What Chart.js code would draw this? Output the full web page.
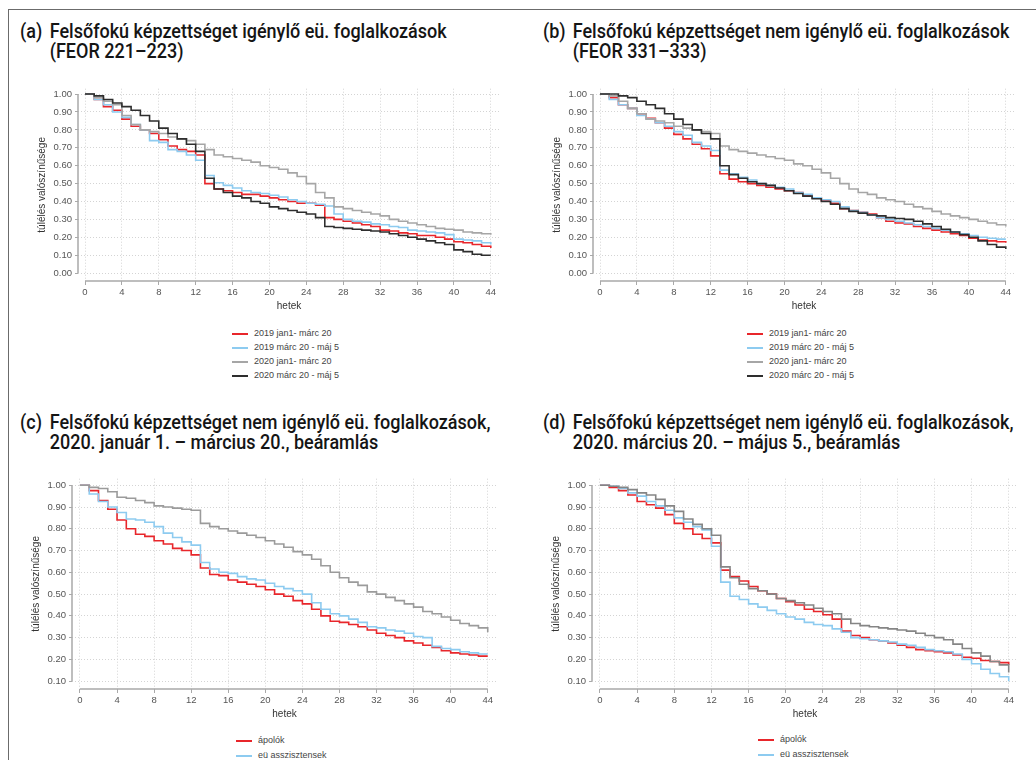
<!DOCTYPE html>
<html>
<head>
<meta charset="utf-8">
<script src="https://cdn.jsdelivr.net/npm/chart.js@4.4.0/dist/chart.umd.min.js"></script>
<style>
    body { margin: 0; width: 1036px; height: 760px; overflow: hidden; background: #fff; position: relative;
           font-family: "Liberation Sans", Arial, sans-serif; }
    #frame { position: absolute; left: 8px; top: 9px; width: 1100px; height: 800px;
             border-top: 1.5px solid #6b6b6b; border-left: 1.5px solid #6b6b6b; }
    .title { position: absolute; font-family: Roboto, "DejaVu Sans Condensed", sans-serif; font-weight: 500;
             font-size: 20px; line-height: 20px; color: #151515; white-space: nowrap;
             transform: scaleX(0.9); transform-origin: 0 0; }
    .title .lab { position: absolute; left: 0; top: 0; }
    .title .txt { margin-left: 33px; }
    canvas { position: absolute; }
    .legend { position: absolute; font-size: 9px; color: #444; }
    .legend div { white-space: nowrap; }
    .legend .ln { display: inline-block; width: 16px; height: 2px; vertical-align: middle; margin-right: 6px; }
</style>
</head>
<body>
<div id="frame"></div>

<div class="title" style="left:20px;top:21px"><span class="lab">(a)</span><div class="txt">Felsőfokú képzettséget igénylő eü. foglalkozások<br>(FEOR 221–223)</div></div>
<div class="title" style="left:543px;top:21px"><span class="lab">(b)</span><div class="txt">Felsőfokú képzettséget nem igénylő eü. foglalkozások<br>(FEOR 331–333)</div></div>
<div class="title" style="left:20px;top:412px"><span class="lab">(c)</span><div class="txt">Felsőfokú képzettséget nem igénylő eü. foglalkozások,<br>2020. január 1. – március 20., beáramlás</div></div>
<div class="title" style="left:543px;top:412px"><span class="lab">(d)</span><div class="txt">Felsőfokú képzettséget nem igénylő eü. foglalkozások,<br>2020. március 20. – május 5., beáramlás</div></div>

<canvas id="chartA" width="475" height="234" style="left:30px;top:80px"></canvas>
<canvas id="chartB" width="475" height="234" style="left:545px;top:80px"></canvas>
<canvas id="chartC" width="478" height="252" style="left:24px;top:470px"></canvas>
<canvas id="chartD" width="479" height="252" style="left:544px;top:470px"></canvas>

<div class="legend" id="legendA" style="left:232px;top:326px"></div>
<div class="legend" id="legendB" style="left:747px;top:326px"></div>
<div class="legend" id="legendC" style="left:236px;top:733px"></div>
<div class="legend" id="legendD" style="left:758px;top:732px"></div>

<script>
"use strict";

// hetek (weeks)
const weeks = [0, 1, 2, 3, 4, 5, 6, 7, 8, 9, 10, 11, 12, 13, 14, 15, 16, 17, 18, 19, 20, 21,
    22, 23, 24, 25, 26, 27, 28, 29, 30, 31, 32, 33, 34, 35, 36, 37, 38, 39, 40, 41, 42, 43, 44];

const periodLabels = ['2019 jan1- márc 20', '2019 márc 20 - máj 5', '2020 jan1- márc 20', '2020 márc 20 - máj 5'];
const jobLabels = ['ápolók', 'eü asszisztensek', 'egyéb eü. foglalkozások'];

// (a) FEOR 221-223
const aRed = [1.00, 0.97, 0.93, 0.91, 0.86, 0.82, 0.80, 0.78, 0.745, 0.71, 0.69, 0.68, 0.66, 0.50, 0.47, 0.46, 0.45, 0.44, 0.44, 0.43, 0.42, 0.41, 0.40,
    0.39, 0.39, 0.38, 0.31, 0.30, 0.29, 0.28, 0.27, 0.26, 0.24, 0.235, 0.225, 0.22, 0.21, 0.21, 0.20, 0.19, 0.175, 0.17, 0.16, 0.15, 0.14];
const aBlue = [1.00, 0.97, 0.94, 0.90, 0.87, 0.83, 0.80, 0.74, 0.73, 0.69, 0.68, 0.66, 0.63, 0.545, 0.505, 0.49, 0.475, 0.46, 0.45, 0.445, 0.435, 0.425, 0.41,
    0.40, 0.39, 0.385, 0.375, 0.33, 0.30, 0.29, 0.285, 0.275, 0.27, 0.26, 0.255, 0.24, 0.235, 0.23, 0.225, 0.215, 0.19, 0.185, 0.18, 0.17, 0.16];
const aGray = [1.00, 0.98, 0.96, 0.94, 0.88, 0.83, 0.80, 0.79, 0.78, 0.76, 0.75, 0.74, 0.72, 0.69, 0.66, 0.65, 0.64, 0.63, 0.62, 0.60, 0.59, 0.58, 0.56,
    0.54, 0.50, 0.45, 0.42, 0.37, 0.36, 0.35, 0.34, 0.33, 0.32, 0.30, 0.29, 0.28, 0.27, 0.26, 0.25, 0.245, 0.24, 0.23, 0.225, 0.22, 0.215];
const aBlack = [1.00, 0.99, 0.97, 0.95, 0.93, 0.91, 0.88, 0.85, 0.81, 0.78, 0.75, 0.72, 0.68, 0.53, 0.47, 0.45, 0.43, 0.42, 0.40, 0.39, 0.37, 0.36, 0.35,
    0.34, 0.33, 0.31, 0.26, 0.255, 0.25, 0.245, 0.24, 0.235, 0.23, 0.22, 0.21, 0.20, 0.19, 0.18, 0.17, 0.16, 0.13, 0.12, 0.105, 0.10, 0.10];

// (b) FEOR 331-333
const bRed = [1.00, 0.98, 0.94, 0.92, 0.89, 0.865, 0.84, 0.81, 0.775, 0.75, 0.72, 0.695, 0.655, 0.555, 0.525, 0.51, 0.50, 0.49, 0.48, 0.47, 0.46, 0.45, 0.435,
    0.42, 0.405, 0.39, 0.36, 0.35, 0.34, 0.33, 0.31, 0.29, 0.28, 0.275, 0.26, 0.25, 0.24, 0.23, 0.22, 0.21, 0.195, 0.185, 0.18, 0.175, 0.17];
const bBlue = [1.00, 0.97, 0.94, 0.92, 0.88, 0.86, 0.84, 0.82, 0.79, 0.77, 0.73, 0.71, 0.685, 0.575, 0.555, 0.535, 0.52, 0.50, 0.49, 0.48, 0.47, 0.45, 0.44,
    0.42, 0.41, 0.40, 0.37, 0.35, 0.34, 0.325, 0.31, 0.30, 0.29, 0.28, 0.27, 0.26, 0.25, 0.24, 0.23, 0.22, 0.21, 0.20, 0.195, 0.19, 0.19];
const bGray = [1.00, 0.99, 0.96, 0.92, 0.89, 0.86, 0.85, 0.84, 0.82, 0.81, 0.80, 0.79, 0.78, 0.71, 0.69, 0.68, 0.67, 0.66, 0.65, 0.64, 0.63, 0.61, 0.60,
    0.58, 0.56, 0.53, 0.50, 0.47, 0.45, 0.44, 0.42, 0.41, 0.40, 0.385, 0.37, 0.36, 0.345, 0.33, 0.32, 0.31, 0.30, 0.29, 0.28, 0.27, 0.26];
const bBlack = [1.00, 1.00, 0.99, 0.98, 0.96, 0.94, 0.92, 0.89, 0.86, 0.83, 0.80, 0.78, 0.75, 0.60, 0.55, 0.53, 0.51, 0.50, 0.49, 0.475, 0.46, 0.445, 0.43,
    0.415, 0.40, 0.385, 0.36, 0.345, 0.335, 0.325, 0.32, 0.31, 0.305, 0.30, 0.29, 0.275, 0.26, 0.245, 0.23, 0.215, 0.20, 0.18, 0.16, 0.145, 0.135];

// (c) 2020 jan 1 - márc 20, beáramlás
const cRed = [1.00, 0.975, 0.93, 0.89, 0.84, 0.80, 0.775, 0.765, 0.745, 0.73, 0.71, 0.70, 0.68, 0.62, 0.59, 0.585, 0.565, 0.555, 0.545, 0.535, 0.52, 0.50, 0.49,
    0.47, 0.455, 0.43, 0.40, 0.375, 0.37, 0.36, 0.35, 0.335, 0.32, 0.31, 0.30, 0.285, 0.275, 0.265, 0.255, 0.24, 0.23, 0.225, 0.22, 0.215, 0.215];
const cBlue = [1.00, 0.96, 0.925, 0.90, 0.875, 0.845, 0.84, 0.83, 0.81, 0.78, 0.76, 0.74, 0.725, 0.645, 0.615, 0.60, 0.595, 0.58, 0.57, 0.565, 0.55, 0.535, 0.525,
    0.515, 0.50, 0.46, 0.43, 0.41, 0.40, 0.385, 0.37, 0.35, 0.345, 0.335, 0.33, 0.32, 0.305, 0.30, 0.26, 0.25, 0.245, 0.235, 0.23, 0.225, 0.225];
const cGray = [1.00, 0.99, 0.985, 0.97, 0.945, 0.94, 0.93, 0.92, 0.905, 0.90, 0.895, 0.89, 0.885, 0.825, 0.81, 0.80, 0.79, 0.78, 0.77, 0.76, 0.745, 0.73, 0.715,
    0.695, 0.68, 0.66, 0.63, 0.60, 0.575, 0.555, 0.54, 0.51, 0.50, 0.485, 0.47, 0.455, 0.44, 0.42, 0.41, 0.395, 0.38, 0.365, 0.355, 0.345, 0.325];

// (d) 2020 márc 20 - máj 5, beáramlás
const dRed = [1.00, 0.99, 0.975, 0.955, 0.925, 0.91, 0.895, 0.865, 0.825, 0.80, 0.775, 0.755, 0.735, 0.61, 0.58, 0.56, 0.535, 0.515, 0.50, 0.48, 0.465, 0.45, 0.43,
    0.42, 0.405, 0.385, 0.33, 0.31, 0.30, 0.29, 0.285, 0.275, 0.265, 0.255, 0.245, 0.24, 0.235, 0.23, 0.22, 0.21, 0.205, 0.195, 0.19, 0.185, 0.175];
const dBlue = [1.00, 0.995, 0.985, 0.965, 0.95, 0.925, 0.905, 0.885, 0.85, 0.83, 0.81, 0.795, 0.72, 0.555, 0.49, 0.475, 0.455, 0.44, 0.425, 0.41, 0.395, 0.385, 0.37,
    0.36, 0.355, 0.34, 0.325, 0.30, 0.295, 0.29, 0.285, 0.28, 0.27, 0.265, 0.255, 0.245, 0.24, 0.235, 0.225, 0.20, 0.18, 0.155, 0.135, 0.12, 0.10];
const dGray = [1.00, 0.995, 0.99, 0.98, 0.965, 0.955, 0.935, 0.905, 0.88, 0.845, 0.82, 0.80, 0.77, 0.625, 0.575, 0.545, 0.525, 0.515, 0.50, 0.48, 0.47, 0.46, 0.45,
    0.435, 0.42, 0.41, 0.385, 0.365, 0.355, 0.35, 0.345, 0.34, 0.335, 0.33, 0.32, 0.31, 0.30, 0.29, 0.27, 0.25, 0.23, 0.215, 0.19, 0.175, 0.14];

const RED = '#e8262b';
const BLUE = '#8dcbf0';
const GRAY = '#a6a6a6';
const BLACK = '#2e2e2e';

// axis lines only span the first..last tick, like the original
const axisLines = {
    id: 'axisLines',
    afterDraw(chart) {
        const {ctx, chartArea, scales} = chart;
        const xt = scales.x.ticks, yt = scales.y.ticks;
        ctx.save();
        ctx.strokeStyle = '#a9a9a9';
        ctx.lineWidth = 1.5;
        ctx.beginPath();
        ctx.moveTo(chartArea.left, scales.y.getPixelForValue(yt[yt.length - 1].value));
        ctx.lineTo(chartArea.left, scales.y.getPixelForValue(yt[0].value));
        ctx.moveTo(scales.x.getPixelForValue(xt[0].value), chartArea.bottom);
        ctx.lineTo(scales.x.getPixelForValue(xt[xt.length - 1].value), chartArea.bottom);
        ctx.stroke();
        ctx.restore();
    }
};

function points(values) {
    return values.map((v, i) => ({x: weeks[i], y: v}));
}

function makeChart(id, series, labels, colors, xMin, yMin) {
    const datasets = series.map((s, i) => ({
        label: labels[i],
        data: points(s),
        borderColor: colors[i],
        borderWidth: 1.6,
        stepped: true,
        pointRadius: 0,
        fill: false,
        order: series.length - i
    }));
    return new Chart(document.getElementById(id), {
        type: 'line',
        data: {datasets: datasets},
        options: {
            responsive: false,
            animation: false,
            layout: {padding: {top: 4, right: 5, left: 0, bottom: 0}},
            plugins: {legend: {display: false}, tooltip: {enabled: false}},
            scales: {
                x: {
                    type: 'linear',
                    min: xMin,
                    max: 45,
                    afterFit: (scale) => { scale.height = 33; },
                    ticks: {stepSize: 4, includeBounds: false, padding: 2, color: '#555',
                        font: {size: 9.5, family: '"Liberation Sans", Arial, sans-serif'}},
                    grid: {color: '#d4d4d4', tickLength: 4, tickColor: '#a9a9a9', tickBorderDash: []},
                    border: {display: false, dash: [1, 2]},
                    title: {display: true, text: 'hetek', color: '#333', padding: {top: 0, bottom: 2},
                        font: {size: 10, family: '"Liberation Sans", Arial, sans-serif'}}
                },
                y: {
                    min: yMin,
                    max: 1.03,
                    afterFit: (scale) => { scale.width = 48; },
                    ticks: {stepSize: 0.1, includeBounds: false, padding: 3, color: '#555',
                        callback: (v) => v.toFixed(2),
                        font: {size: 9.5, family: '"Liberation Sans", Arial, sans-serif'}},
                    grid: {color: '#d4d4d4', tickLength: 3, tickColor: '#a9a9a9', tickBorderDash: []},
                    border: {display: false, dash: [1, 2]},
                    title: {display: true, text: 'túlélés valószínűsége', color: '#333', padding: {top: 6, bottom: 0},
                        font: {size: 10, family: '"Liberation Sans", Arial, sans-serif'}}
                }
            }
        },
        plugins: [axisLines]
    });
}

function makeLegend(id, chart) {
    const box = document.getElementById(id);
    const rowHeight = id === 'legendA' || id === 'legendB' ? 14 : 15;
    chart.data.datasets.forEach(ds => {
        const row = document.createElement('div');
        row.style.height = rowHeight + 'px';
        row.style.lineHeight = rowHeight + 'px';
        const ln = document.createElement('span');
        ln.className = 'ln';
        ln.style.background = ds.borderColor;
        row.appendChild(ln);
        row.appendChild(document.createTextNode(ds.label));
        box.appendChild(row);
    });
}

const chartA = makeChart('chartA', [aRed, aBlue, aGray, aBlack], periodLabels, [RED, BLUE, GRAY, BLACK], -0.76, -0.044);
const chartB = makeChart('chartB', [bRed, bBlue, bGray, bBlack], periodLabels, [RED, BLUE, GRAY, BLACK], -0.76, -0.044);
const chartC = makeChart('chartC', [cRed, cBlue, cGray], jobLabels, [RED, BLUE, '#9b9b9b'], -0.86, 0.064);
const chartD = makeChart('chartD', [dRed, dBlue, dGray], jobLabels, [RED, BLUE, '#858585'], -0.86, 0.064);

makeLegend('legendA', chartA);
makeLegend('legendB', chartB);
makeLegend('legendC', chartC);
makeLegend('legendD', chartD);
</script>
</body>
</html>
